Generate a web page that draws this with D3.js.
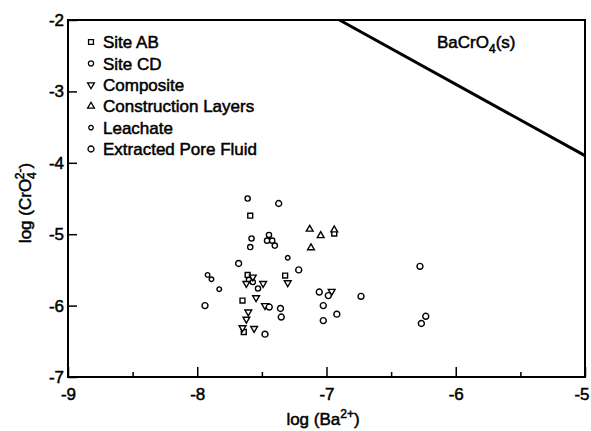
<!DOCTYPE html>
<html>
<head>
<meta charset="utf-8">
<script src="https://cdn.jsdelivr.net/npm/d3@7"></script>
<style>
  html, body { margin: 0; padding: 0; background: #fff; }
  svg text { font-family: "Liberation Sans", Arial, Helvetica, sans-serif; fill: #000; }
</style>
</head>
<body>
<svg id="chart" width="591" height="431"></svg>
<script>
// log activities: x = log(Ba2+), y = log(CrO4 2-)
const siteAB_x = [-7.59, -6.94, -7.61, -7.32, -7.65, -7.64];
const siteAB_y = [-4.74, -4.99, -5.57, -5.58, -5.93, -6.37];

const siteCD_x = [-7.61, -7.58, -7.59, -7.445, -7.46, -7.42, -7.40, -7.60, -7.57, -7.53];
const siteCD_y = [-4.50, -5.06, -5.18, -5.01, -5.09, -5.09, -5.16, -5.64, -5.67, -5.76];

const composite_x = [-7.62, -7.57, -7.49, -7.30, -6.96, -7.545, -7.476, -7.605, -7.62, -7.65, -7.56];
const composite_y = [-5.69, -5.60, -5.69, -5.68, -5.80, -5.89, -6.00, -6.09, -6.19, -6.31, -6.32];

const construction_x = [-7.13, -7.045, -6.94, -7.12];
const construction_y = [-4.93, -5.02, -4.94, -5.19];

const leachate_x = [-7.92, -7.89, -7.83, -7.30];
const leachate_y = [-5.57, -5.63, -5.77, -5.33];

const poreFluid_x = [-7.37, -7.68, -7.215, -7.056, -6.986, -6.733, -7.94, -7.443, -7.356, -7.35,
                     -7.025, -6.92, -7.025, -7.476, -6.277, -6.232, -6.266];
const poreFluid_y = [-4.57, -5.41, -5.50, -5.81, -5.86, -5.87, -6.00, -6.02, -6.04, -6.16,
                     -6.00, -6.12, -6.21, -6.40, -5.45, -6.15, -6.25];

// BaCrO4(s) solubility boundary
const boundary_x = [-6.9, -5];
const boundary_y = [-2, -3.9];

const xTicks = [-9, -8, -7, -6, -5];
const xMinorTicks = [-8.5, -7.5, -6.5, -5.5];
const yTicks = [-7, -6, -5, -4, -3, -2];

const seriesNames = ["Site AB", "Site CD", "Composite", "Construction Layers", "Leachate", "Extracted Pore Fluid"];

const svg = d3.select("#chart");
const plotLeft = 68, plotRight = 585, plotTop = 20, plotBottom = 377;

const x = d3.scaleLinear().domain([-9, -5]).range([plotLeft, plotRight]);
const y = d3.scaleLinear().domain([-7, -2]).range([plotBottom, plotTop]);

const FONT = 17;
const thicken = sel => sel.attr("stroke", "#000").attr("stroke-width", 0.5);

// symbol paths
const sym = {
  square:   d3.symbol().type(d3.symbolSquare).size(24)(),
  circleS:  d3.symbol().type(d3.symbolCircle).size(16)(),
  circleM:  d3.symbol().type(d3.symbolCircle).size(21)(),
  circleL:  d3.symbol().type(d3.symbolCircle).size(28)(),
  triUp:    d3.symbol().type(d3.symbolTriangle).size(20)(),
  triDown:  d3.symbol().type(d3.symbolTriangle).size(20)()
};

const series = [
  { name: seriesNames[0], xs: siteAB_x, ys: siteAB_y, path: sym.square, rot: 0 },
  { name: seriesNames[1], xs: siteCD_x, ys: siteCD_y, path: sym.circleM, rot: 0 },
  { name: seriesNames[2], xs: composite_x, ys: composite_y, path: sym.triDown, rot: 180 },
  { name: seriesNames[3], xs: construction_x, ys: construction_y, path: sym.triUp, rot: 0 },
  { name: seriesNames[4], xs: leachate_x, ys: leachate_y, path: sym.circleS, rot: 0 },
  { name: seriesNames[5], xs: poreFluid_x, ys: poreFluid_y, path: sym.circleL, rot: 0 }
];

// frame
svg.append("rect")
  .attr("x", plotLeft).attr("y", plotTop)
  .attr("width", plotRight - plotLeft).attr("height", plotBottom - plotTop)
  .attr("fill", "none").attr("stroke", "#000").attr("stroke-width", 2);

const fmt = d => d3.format("d")(d).replace("\u2212", "-");

// x axis: major ticks with labels, minor ticks inward
const gx = svg.append("g").attr("transform", `translate(0,${plotBottom})`)
  .call(d3.axisBottom(x).tickValues(xTicks).tickSizeInner(-10).tickSizeOuter(0)
        .tickPadding(11).tickFormat(fmt));
const gxm = svg.append("g").attr("transform", `translate(0,${plotBottom})`)
  .call(d3.axisBottom(x).tickValues(xMinorTicks).tickSizeInner(-5).tickSizeOuter(0).tickFormat(""));

// y axis
const gy = svg.append("g").attr("transform", `translate(${plotLeft},0)`)
  .call(d3.axisLeft(y).tickValues(yTicks).tickSizeInner(-9).tickSizeOuter(0)
        .tickPadding(4).tickFormat(fmt));

[gx, gxm, gy].forEach(g => {
  g.select(".domain").remove();
  g.selectAll(".tick line").attr("stroke", "#000").attr("stroke-width", 1.5);
  g.selectAll(".tick text").attr("font-size", FONT)
    .attr("font-family", "Liberation Sans, Arial, sans-serif").call(thicken);
});
// last x label sits against the right edge of the page
gx.selectAll(".tick text").filter(d => d === -5)
  .attr("text-anchor", "end").attr("x", 589 - plotRight);

// boundary line
const boundary = boundary_x.map((v, i) => [v, boundary_y[i]]);
svg.append("path")
  .attr("d", d3.line().x(d => x(d[0])).y(d => y(d[1]))(boundary))
  .attr("fill", "none").attr("stroke", "#000").attr("stroke-width", 3);

// boundary label
const lbl = svg.append("text").attr("x", 437).attr("y", 48).attr("font-size", FONT).call(thicken);
lbl.append("tspan").text("BaCrO");
lbl.append("tspan").attr("font-size", 12).attr("dy", 5).text("4");
lbl.append("tspan").attr("dy", -5).text("(s)");

// data points
series.forEach(s => {
  svg.append("g").selectAll("path")
    .data(s.xs.map((v, i) => [v, s.ys[i]]))
    .join("path")
    .attr("d", s.path)
    .attr("transform", d => `translate(${x(d[0])},${y(d[1])}) rotate(${s.rot})`)
    .attr("fill", "#fff").attr("stroke", "#000").attr("stroke-width", 1.4);
});

// legend
const legend = svg.append("g");
series.forEach((s, i) => {
  const ly = 42 + i * 21.4;
  legend.append("path").attr("d", s.path)
    .attr("transform", `translate(91,${ly}) rotate(${s.rot})`)
    .attr("fill", "#fff").attr("stroke", "#000").attr("stroke-width", 1.3);
  legend.append("text").attr("x", 103).attr("y", ly).attr("dy", "0.36em")
    .attr("font-size", FONT).text(s.name).call(thicken);
});

// x axis title
const xt = svg.append("text").attr("x", 323).attr("y", 425).attr("text-anchor", "middle")
  .attr("font-size", FONT).call(thicken);
xt.append("tspan").text("log (Ba");
xt.append("tspan").attr("font-size", 12).attr("dy", -7).text("2+");
xt.append("tspan").attr("dy", 7).text(")");

// y axis title
const yt = svg.append("text")
  .attr("transform", "translate(31,203) rotate(-90)")
  .attr("text-anchor", "middle").attr("font-size", FONT).call(thicken);
yt.append("tspan").text("log (CrO");
yt.append("tspan").attr("font-size", 12).attr("dy", 5).text("4");
yt.append("tspan").attr("font-size", 12).attr("dx", -7).attr("dy", -12).text("2-");
yt.append("tspan").attr("dy", 7).text(")");
</script>
</body>
</html>
